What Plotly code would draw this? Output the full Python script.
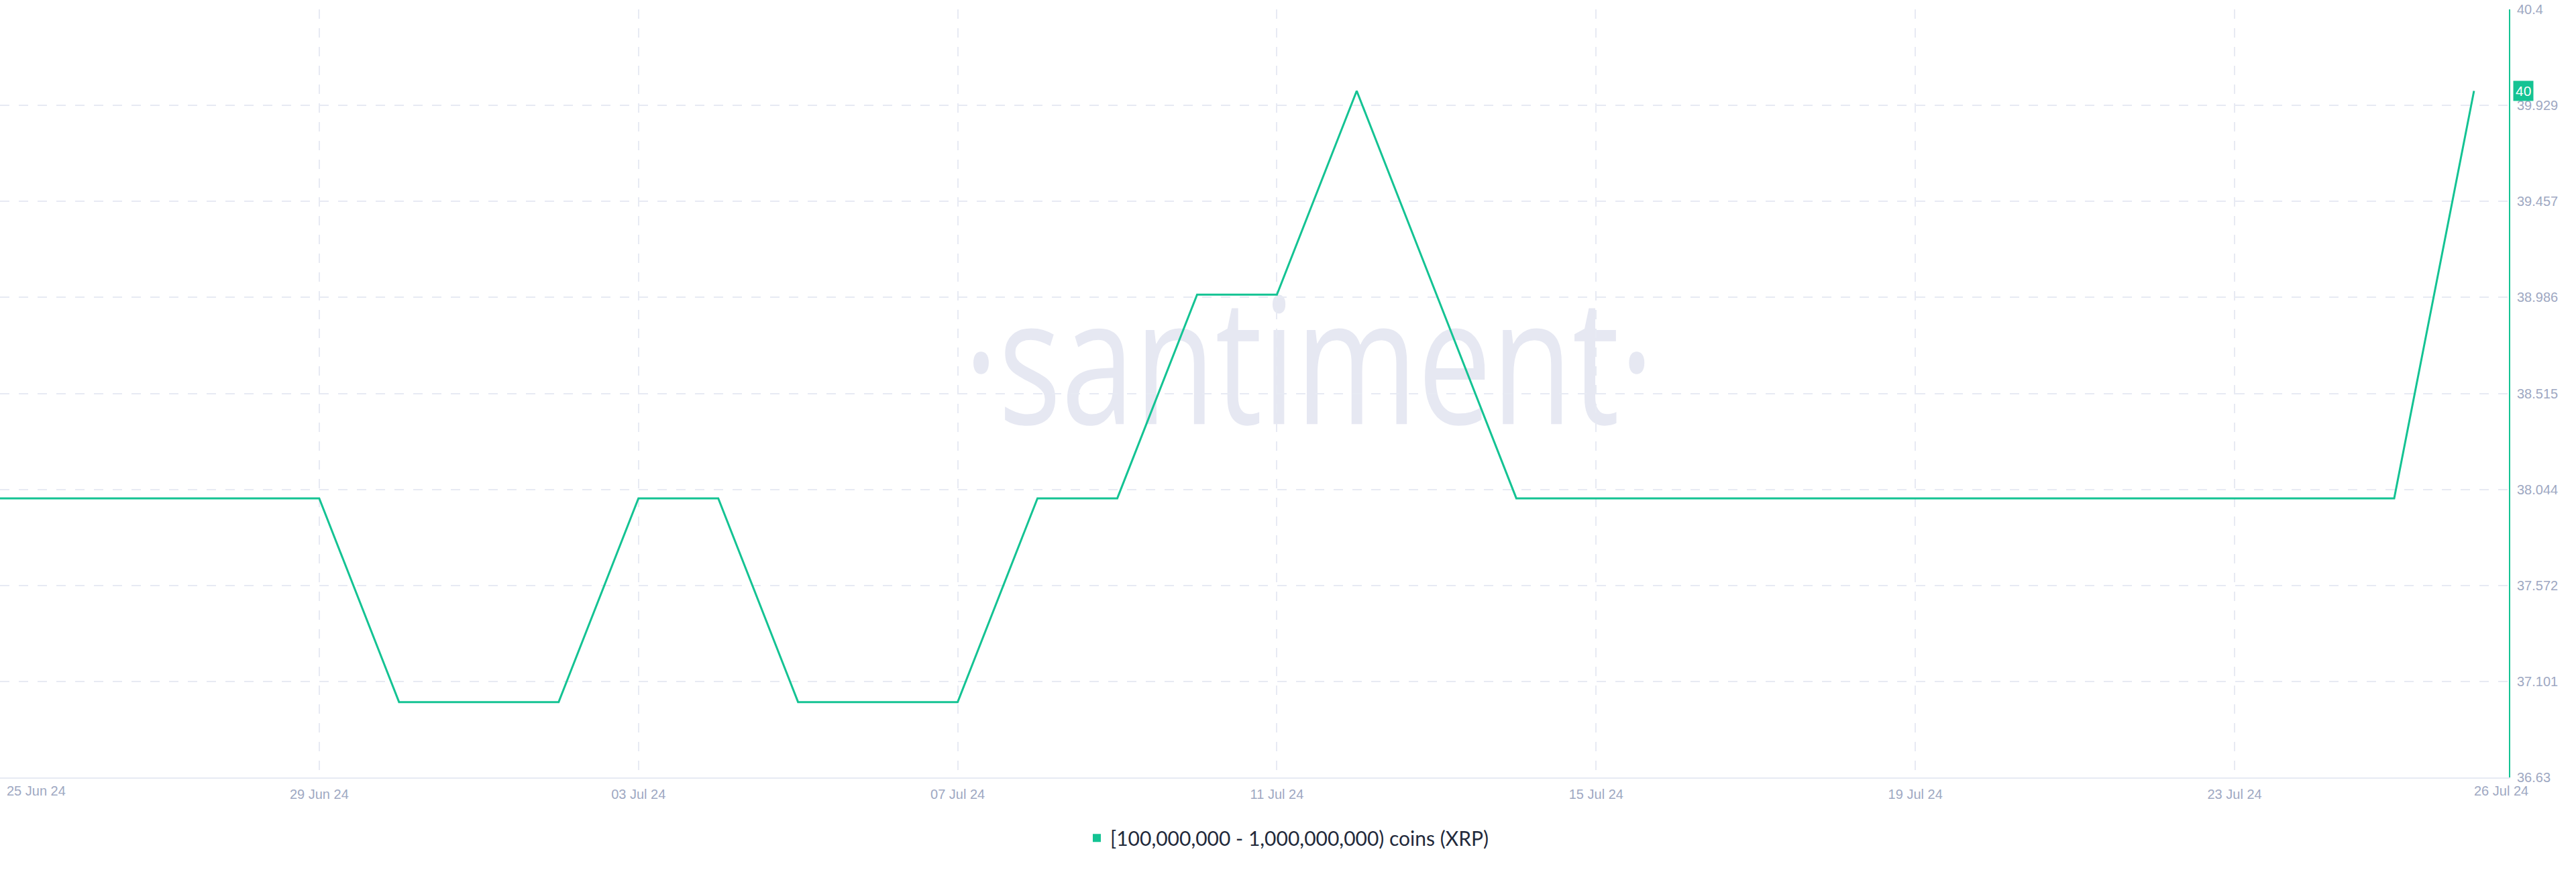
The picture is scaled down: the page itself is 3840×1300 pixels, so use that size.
import plotly.graph_objects as go

# ---- data ----
dates = [
    "2024-06-25", "2024-06-26", "2024-06-27", "2024-06-28", "2024-06-29", "2024-06-30",
    "2024-07-01", "2024-07-02", "2024-07-03", "2024-07-04", "2024-07-05", "2024-07-06",
    "2024-07-07", "2024-07-08", "2024-07-09", "2024-07-10", "2024-07-11", "2024-07-12",
    "2024-07-13", "2024-07-14", "2024-07-15", "2024-07-16", "2024-07-17", "2024-07-18",
    "2024-07-19", "2024-07-20", "2024-07-21", "2024-07-22", "2024-07-23", "2024-07-24",
    "2024-07-25", "2024-07-26",
]
values = [38, 38, 38, 38, 38, 37, 37, 37, 38, 38, 37, 37, 37, 38, 38, 39,
          39, 40, 39, 38, 38, 38, 38, 38, 38, 38, 38, 38, 38, 38, 38, 40]
series_name = "[100,000,000 - 1,000,000,000) coins (XRP)"

grid_tick_dates = ["2024-06-25", "2024-06-29", "2024-07-03", "2024-07-07",
                   "2024-07-11", "2024-07-15", "2024-07-19", "2024-07-23"]
grid_tick_labels = ["", "29 Jun 24", "03 Jul 24", "07 Jul 24",
                    "11 Jul 24", "15 Jul 24", "19 Jul 24", "23 Jul 24"]
first_tick_date = ["2024-06-25"]
first_tick_label = ["25 Jun 24"]
last_tick_date = ["2024-07-26"]
last_tick_label = ["26 Jul 24"]

y_ticks = [36.63, 37.101, 37.572, 38.044, 38.515, 38.986, 39.457, 39.929, 40.4]
y_tick_labels = ["36.63", "37.101", "37.572", "38.044", "38.515", "38.986", "39.457", "39.929", "40.4"]

x_range = ["2024-06-25", "2024-07-26 10:30"]
y_range = [36.63, 40.4]

# ---- style ----
GREEN = "#14C393"
GRID = "#e7eaf3"
TICKC = "#9ea8c2"
AXFONT = dict(family="Liberation Sans, Arial, sans-serif", size=20, color=TICKC)

fig = go.Figure()
fig.add_trace(go.Scatter(
    x=dates, y=values, mode="lines",
    line=dict(color=GREEN, width=3),
    showlegend=False, hoverinfo="skip",
))
# legend entry (square marker)
fig.add_trace(go.Scatter(
    x=[None], y=[None], mode="markers",
    marker=dict(symbol="square", size=18, color=GREEN),
    name=series_name, showlegend=True,
))
# axes used only for the edge labels
fig.add_trace(go.Scatter(x=[dates[0]], y=[None], xaxis="x2", yaxis="y",
                         mode="markers", showlegend=False, hoverinfo="skip"))
fig.add_trace(go.Scatter(x=[dates[0]], y=[None], xaxis="x3", yaxis="y",
                         mode="markers", showlegend=False, hoverinfo="skip"))

edge_axis = dict(
    type="date", range=x_range, overlaying="x", anchor="y", side="bottom",
    automargin=False, ticklabelposition="outside right", ticklabelstandoff=6,
    showgrid=False, showline=False, ticks="", tickfont=AXFONT, zeroline=False,
)

fig.update_layout(
    width=3840, height=1300,
    margin=dict(l=0, r=100, t=14, b=141, autoexpand=False),
    paper_bgcolor="white", plot_bgcolor="white",
    xaxis=dict(
        type="date", range=x_range, automargin=False,
        tickvals=grid_tick_dates, ticktext=grid_tick_labels,
        showgrid=True, gridcolor=GRID, gridwidth=2, griddash="14px,14px",
        showline=True, linecolor=GRID, linewidth=2,
        ticks="", ticklabelstandoff=6, tickfont=AXFONT, zeroline=False,
    ),
    xaxis2=dict(edge_axis, tickvals=first_tick_date, ticktext=first_tick_label,
                ticklabelshift=10),
    xaxis3=dict(edge_axis, tickvals=last_tick_date, ticktext=last_tick_label),
    yaxis=dict(
        range=y_range, side="right", automargin=False,
        tickvals=y_ticks, ticktext=y_tick_labels,
        showgrid=True, gridcolor=GRID, gridwidth=2, griddash="14px,14px",
        showline=True, linecolor=GREEN, linewidth=2,
        ticks="", ticklabelstandoff=6, tickfont=AXFONT, zeroline=False,
    ),
    legend=dict(
        orientation="h", xref="container", yref="container",
        x=0.5, xanchor="center", y=0.039, yanchor="middle",
        font=dict(family="Lato, sans-serif", size=30, color="#232a3b"),
        itemsizing="constant", itemwidth=30,
    ),
    showlegend=True,
)

# watermark behind the line
fig.add_shape(
    type="rect", xref="paper", yref="paper", x0=0.2217, x1=0.8217, y0=0.333, y1=0.733,
    line=dict(width=0), fillcolor="rgba(0,0,0,0)", layer="below",
    label=dict(text="·santiment·", textposition="middle center",
               font=dict(family="Open Sans, sans-serif", size=262, color="#e6e8f2")),
)

# last value badge
fig.add_annotation(
    xref="paper", yref="y", x=1, y=values[-1], xanchor="left", yanchor="middle",
    xshift=6, text=str(values[-1]), showarrow=False,
    bgcolor=GREEN, font=dict(family="Liberation Sans, Arial, sans-serif", size=21, color="white"),
    borderpad=3,
)

post = """
document.body.style.margin = '0';
var t = document.querySelector('.shapelayer text');
if (t) {
  var b = t.getBBox();
  var cx = b.x + b.width / 2, cy = b.y + b.height / 2;
  t.setAttribute('transform', 'translate(' + cx + ',' + cy + ') scale(0.75,1) translate(' + (-cx) + ',' + (-cy) + ')');
}
"""

fig.write_html("out.html", post_script=post, config={"displayModeBar": False})
